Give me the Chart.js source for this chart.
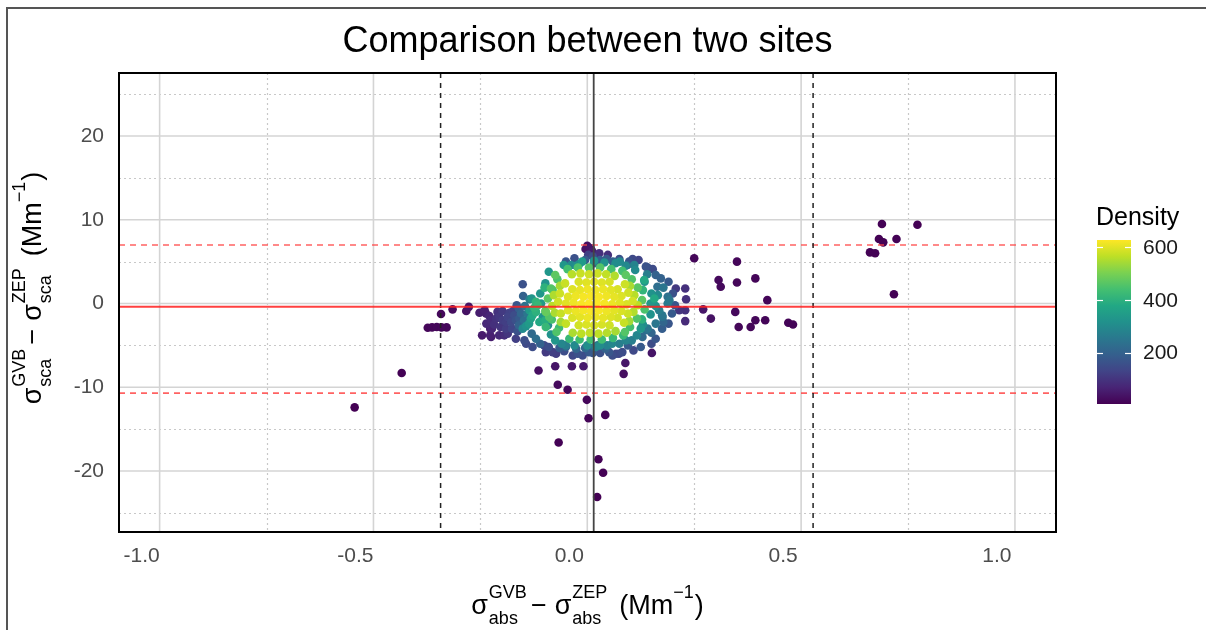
<!DOCTYPE html>
<html>
<head>
<meta charset="utf-8">
<script src="https://cdn.jsdelivr.net/npm/chart.js@4.4.1/dist/chart.umd.min.js"></script>
<style>
  html, body { margin: 0; padding: 0; background: #fff; }
  #wrap { position: relative; width: 1206px; height: 630px; overflow: hidden; }
  #frame { position: absolute; left: 6px; top: 7px; right: -10px; bottom: -10px;
           border-left: 2px solid #555; border-top: 2px solid #555; pointer-events: none; }
  canvas { display: block; }
</style>
</head>
<body>
<div id="wrap">
  <canvas id="myChart" width="1206" height="630"></canvas>
  <div id="frame"></div>
</div>
<script>
const FONT = '"Liberation Sans", Arial, sans-serif';

// axis ticks
const xTicks = [-1.0, -0.5, 0.0, 0.5, 1.0];
const xMinor = [-0.75, -0.25, 0.25, 0.75];
const yTicks = [-20, -10, 0, 10, 20];
const yMinor = [-25, -15, -5, 5, 15, 25];
const densTicks = [200, 400, 600];
const densMin = 5, densMax = 628;

// mean difference and limits of agreement
const meanY = -0.4;
const limitsY = [6.98, -10.7];
const meanX = 0.015;
const limitsX = [-0.343, 0.528];

// points: [abs diff, sca diff, density]
const farPts = [
  [-0.544,-12.4,5],[-0.434,-8.3,6],
  [-0.373,-2.9,14],[-0.363,-2.85,16],[-0.352,-2.8,17],[-0.341,-2.85,17],[-0.329,-2.85,16],
  [-0.342,-1.25,18],[-0.315,-0.7,24],[-0.283,-0.9,36],[-0.277,-0.4,38],
  [-0.114,-8.0,30],[-0.075,-7.5,40],[-0.036,-7.5,45],[-0.009,-7.5,50],
  [-0.069,-9.7,20],[-0.046,-10.3,18],[-0.001,-11.5,14],[0.003,-13.7,10],[0.042,-13.3,10],
  [-0.067,-16.6,6],[0.026,-18.6,7],[0.037,-20.2,6],[0.023,-23.1,5],
  [0.151,-5.9,40],[0.085,-8.4,30],[0.089,-7.1,45],
  [0.000,6.9,30],[0.008,6.6,40],[0.012,6.2,50],[-0.004,6.5,35],
  [0.25,5.4,15],[0.350,5.0,14],[0.307,2.8,20],[0.312,2.0,20],[0.350,2.5,15],[0.393,3.0,12],[0.421,0.4,12],
  [0.271,-0.7,45],[0.289,-1.8,35],[0.346,-1.0,20],[0.354,-2.8,15],[0.382,-2.8,15],[0.393,-2.0,15],
  [0.416,-2.0,12],[0.470,-2.3,10],[0.481,-2.5,10],
  [0.661,6.1,7],[0.673,6.0,7],[0.682,7.7,7],[0.692,7.3,7],[0.689,9.5,6],[0.723,7.7,6],[0.717,1.1,6],[0.772,9.4,5]
];

const wingPts = [
  [-0.252,-1.1,55],[-0.246,-3.8,50],[-0.237,-1.2,60],[-0.229,-1.5,70],[-0.227,-3.0,60],[-0.225,-4.0,55],
  [-0.225,-2.0,80],[-0.213,-1.8,95],[-0.206,-1.6,105],[-0.198,-2.0,115],[-0.186,-1.6,130],[-0.182,-1.1,125],
  [-0.174,-0.9,130],[-0.171,-1.4,150],[-0.167,-2.0,160],[-0.159,-1.8,180],[-0.178,-2.2,140],[-0.190,-2.2,120],
  [-0.227,-3.8,60],[-0.223,-3.0,70],[-0.206,-3.8,75],[-0.194,-3.8,85],[-0.186,-3.6,100],[-0.167,-4.2,120],
  [-0.147,-4.4,150],[-0.143,-4.8,140],[-0.151,2.3,160],[-0.160,-0.6,190],[-0.155,-1.2,210],
  [-0.236,-2.4,75],[-0.218,-2.5,90],[-0.203,-2.8,100],[-0.190,-3.0,115],[-0.176,-3.0,135],[-0.163,-3.3,160],
  [-0.160,-2.6,200],[-0.148,-2.0,230],[-0.140,-1.2,250],[-0.146,-0.3,240],[-0.135,0.5,270],[-0.150,0.9,200],
  [-0.165,-0.2,170],[-0.198,-0.9,110],[-0.210,-1.0,95],[-0.240,-0.8,60],[-0.130,-3.6,220],[-0.120,-4.2,230],
  [-0.110,-4.8,200],[-0.128,-5.2,150],
  [0.207,1.8,110],[0.229,1.8,90],[0.231,0.5,90],[0.215,-0.8,100],[0.229,-0.8,95],[0.229,-2.1,80],
  [0.164,2.0,230],[0.178,1.9,250],[0.192,0.4,250],[0.188,0.0,260],[0.188,0.8,240],[0.176,-1.6,240],
  [0.168,-0.8,270],[0.175,-1.4,250],[0.137,-3.2,230],[0.129,-4.0,220],[0.150,-3.5,210],[0.141,-3.0,250],
  [0.160,-2.4,250],[0.141,4.3,150],[0.153,4.1,145],[0.137,4.4,165],[0.098,5.0,160],[0.106,5.3,140],[0.094,4.6,190],
  [0.172,3.0,200],[0.190,2.6,180],[0.200,1.2,160],[0.205,-0.2,170],[0.198,-1.2,180],[0.190,-2.4,170],
  [0.175,-3.0,190],[0.160,-4.2,170],[0.150,-4.8,150],[0.125,-5.2,180],[0.120,5.2,130],[0.160,3.4,200],[0.178,-2.2,210],
  [0.013,5.6,150],[0.016,4.8,220],[0.048,5.8,90],[-0.005,5.2,180],[0.030,5.2,190],[0.060,5.0,200],
  [-0.030,5.4,160],[0.045,5.3,180],[0.075,5.3,160],[-0.050,5.0,170],[0.002,5.8,120],[0.028,6.0,90],
  [-0.101,-5.0,140],[-0.097,-5.8,110],[-0.081,-5.8,120],[-0.073,-6.0,115],[-0.054,-5.7,150],[-0.034,-6.2,140],
  [-0.022,-6.0,160],[-0.011,-6.2,150],[0.004,-5.8,180],[0.013,-5.9,170],[0.016,-5.2,220],[0.024,-5.0,230],
  [0.043,-5.4,200],[0.051,-5.8,170],[0.059,-6.2,150],[0.067,-6.0,140],[0.074,-6.0,130],[0.082,-5.8,150],
  [-0.050,-5.2,200],[-0.026,-5.4,210],
  [-0.090,-5.2,150],[-0.065,-5.3,180],[0.095,-5.0,180],[0.108,-5.6,140],[0.030,-5.9,160],[-0.005,-5.3,220]
];

const haloPts = [
  [-0.151,-3.0,300],[-0.143,-2.7,320],[-0.136,-2.4,340],[-0.132,-1.8,360],[-0.128,-1.4,380],[-0.120,-1.0,400],
  [-0.124,-0.5,410],[-0.116,-0.2,420],[-0.120,0.2,410],[-0.097,-1.0,480],[-0.089,-1.6,460],[-0.097,-2.8,420],
  [-0.112,-2.2,380],[-0.081,1.6,450],[0.157,0.6,380],[0.133,2.8,380],
  [-0.108,0.0,340],[-0.110,1.2,330],[-0.104,-1.6,320],[0.148,0.0,335],[0.150,1.2,320],[0.148,-1.3,318],
  [-0.098,2.4,320],[0.134,2.6,325],[-0.092,-2.6,300],[0.130,-2.5,310],[-0.038,4.6,300],[-0.026,4.5,310],
  [-0.019,4.7,305],[0.040,4.9,320],[0.066,4.8,305],[0.090,4.5,295],[0.112,4.0,300],[-0.060,-4.8,290],
  [-0.030,-5.0,300],[0.000,-5.0,310],[0.030,-5.0,305],[0.058,-4.8,290],[0.090,-4.4,285],[0.116,-3.8,290],
  [-0.092,0.6,470],[-0.098,-0.9,450],[0.128,0.4,470],[0.134,-0.7,450],[-0.085,1.8,460],[0.118,1.9,465],
  [-0.083,-1.9,445],[0.116,-1.8,455],[-0.070,2.9,450],[0.104,2.9,455],[-0.066,-2.9,430],[0.100,-2.8,440],
  [-0.046,4.1,440],[-0.022,4.3,450],[0.004,4.3,465],[0.030,4.3,460],[0.056,4.1,445],[0.082,3.9,440],
  [-0.042,-4.2,420],[-0.018,-4.3,432],[0.008,-4.3,440],[0.034,-4.3,435],[0.060,-4.1,422],[0.084,-3.8,420],
  [-0.075,3.4,470],[0.090,3.4,470],[-0.072,-3.4,455],[0.088,-3.4,460],
  [-0.100,1.9,400],[0.130,1.6,410],[-0.098,-2.0,390],[0.128,-1.9,400],
  [-0.055,4.6,330],[0.110,4.6,280],[-0.012,5.0,340],[0.016,5.1,330],[0.076,5.0,300],
  [-0.075,-4.4,330],[-0.050,-5.0,270],[0.020,-5.2,290],[0.046,-5.0,280],[0.075,-4.8,270],[0.104,-4.4,270],
  [-0.130,0.6,330],[-0.135,-0.8,340],[0.160,-0.3,320],[0.165,1.0,300],
  [0.140,3.5,270],[-0.090,3.8,330],[-0.085,-3.7,320],[0.125,-3.0,330]
];

const corePts = [
  [-0.068,0.2,585],[-0.082,-0.3,560],[0.106,0.3,588],[0.118,-0.2,565],
  [-0.064,1.2,580],[-0.078,1.0,552],[0.096,1.3,585],[0.110,1.0,560],
  [-0.062,-1.2,575],[-0.076,-1.1,548],[0.095,-1.2,580],[0.108,-1.0,555],
  [-0.052,2.4,576],[-0.064,2.1,545],[0.088,2.3,580],[0.100,2.1,548],
  [-0.050,-2.4,572],[-0.062,-2.2,540],[0.086,-2.3,575],[0.098,-2.1,542],
  [-0.036,3.5,560],[-0.016,3.6,575],[0.004,3.5,582],[0.024,3.6,580],[0.044,3.5,570],[0.064,3.3,555],
  [-0.034,-3.5,550],[-0.014,-3.6,565],[0.006,-3.5,572],[0.026,-3.6,568],[0.046,-3.5,558],[0.066,-3.3,545],
  [0.004,0.0,628],[0.022,0.1,626],[-0.014,-0.1,622],[0.040,0.0,620],[-0.032,0.1,612],[0.058,-0.1,610],
  [-0.050,0.0,600],[0.076,0.1,602],[0.092,-0.1,592],
  [-0.045,0.8,600],[-0.027,0.9,612],[-0.009,0.8,620],[0.009,0.9,624],[0.027,0.8,622],[0.045,0.9,614],
  [0.063,0.8,606],[0.080,0.9,596],
  [-0.045,-0.8,598],[-0.027,-0.9,610],[-0.009,-0.8,618],[0.009,-0.9,622],[0.027,-0.8,620],[0.045,-0.9,612],
  [0.063,-0.8,602],[0.080,-0.9,592],
  [-0.035,1.7,598],[-0.017,1.6,608],[0.001,1.7,614],[0.019,1.6,616],[0.037,1.7,610],[0.055,1.6,602],[0.071,1.7,592],
  [-0.035,-1.7,594],[-0.017,-1.6,604],[0.001,-1.7,610],[0.019,-1.6,612],[0.037,-1.7,606],[0.055,-1.6,598],[0.071,-1.7,588],
  [-0.020,2.6,592],[-0.002,2.5,600],[0.016,2.6,604],[0.034,2.5,598],[0.052,2.6,590],
  [-0.020,-2.6,586],[-0.002,-2.5,594],[0.016,-2.6,596],[0.034,-2.5,590],[0.052,-2.6,582]
];

// viridis palette
const viridisStops = ['#440154','#482475','#414487','#355f8d','#2a788e','#21918c',
                      '#22a884','#44bf70','#7ad151','#bddf26','#fde725'];

function hexRgb(h) {
  return [parseInt(h.slice(1,3),16), parseInt(h.slice(3,5),16), parseInt(h.slice(5,7),16)];
}
function viridis(d) {
  let t = (d - densMin) / (densMax - densMin);
  t = Math.max(0, Math.min(1, t));
  const pos = t * (viridisStops.length - 1);
  const i = Math.min(Math.floor(pos), viridisStops.length - 2);
  const f = pos - i;
  const a = hexRgb(viridisStops[i]), b = hexRgb(viridisStops[i + 1]);
  const c = a.map((v, k) => Math.round(v + (b[k] - v) * f));
  return 'rgb(' + c.join(',') + ')';
}

// draw low density first so the dense core sits on top
const allPts = farPts.concat(wingPts, haloPts, corePts).slice().sort((p, q) => p[2] - q[2]);

// math-style axis titles
function exprWidth(ctx, parts, big, small) {
  let w = 0;
  parts.forEach(p => {
    if (p.gap) { w += p.gap; return; }
    if (p.t) { ctx.font = big + 'px ' + FONT; w += ctx.measureText(p.t).width; return; }
    ctx.font = small + 'px ' + FONT;
    w += Math.max(p.sup ? ctx.measureText(p.sup).width : 0, p.sub ? ctx.measureText(p.sub).width : 0);
  });
  return w;
}
function drawExpr(ctx, parts, cx, base, big, small) {
  let x = cx - exprWidth(ctx, parts, big, small) / 2;
  ctx.textAlign = 'left';
  ctx.textBaseline = 'alphabetic';
  parts.forEach(p => {
    if (p.gap) { x += p.gap; return; }
    if (p.t) {
      ctx.font = big + 'px ' + FONT;
      ctx.fillText(p.t, x, base);
      x += ctx.measureText(p.t).width;
      return;
    }
    ctx.font = small + 'px ' + FONT;
    let w = 0;
    if (p.sup) { ctx.fillText(p.sup, x, base - 16); w = ctx.measureText(p.sup).width; }
    if (p.sub) { ctx.fillText(p.sub, x, base + 10); w = Math.max(w, ctx.measureText(p.sub).width); }
    x += w;
  });
}
function axisParts(tag) {
  return [
    {t: 'σ'}, {gap: 1}, {sup: 'GVB', sub: tag}, {gap: 4}, {t: '−'}, {gap: 8},
    {t: 'σ'}, {gap: 1}, {sup: 'ZEP', sub: tag}, {gap: 12}, {t: '(Mm'}, {sup: '−1'}, {gap: 1}, {t: ')'}
  ];
}

const backPlugin = {
  id: 'backGrid',
  beforeDatasetsDraw(chart) {
    const c = chart.ctx, a = chart.chartArea;
    const sx = chart.scales.x, sy = chart.scales.y;
    c.save();
    // minor grid, dotted
    c.strokeStyle = '#c8c8c8';
    c.lineWidth = 1.2;
    c.setLineDash([2, 3]);
    xMinor.forEach(v => {
      const px = Math.round(sx.getPixelForValue(v)) + 0.5;
      c.beginPath(); c.moveTo(px, a.top); c.lineTo(px, a.bottom); c.stroke();
    });
    yMinor.forEach(v => {
      const py = Math.round(sy.getPixelForValue(v)) + 0.5;
      c.beginPath(); c.moveTo(a.left, py); c.lineTo(a.right, py); c.stroke();
    });
    // major grid
    c.setLineDash([]);
    c.strokeStyle = '#d4d4d4';
    c.lineWidth = 1.6;
    xTicks.forEach(v => {
      const px = sx.getPixelForValue(v);
      c.beginPath(); c.moveTo(px, a.top); c.lineTo(px, a.bottom); c.stroke();
    });
    yTicks.forEach(v => {
      const py = sy.getPixelForValue(v);
      c.beginPath(); c.moveTo(a.left, py); c.lineTo(a.right, py); c.stroke();
    });
    c.restore();
  },
  afterDatasetsDraw(chart) {
    const c = chart.ctx, a = chart.chartArea;
    const sx = chart.scales.x, sy = chart.scales.y;
    c.save();
    // limits of agreement, red dashed
    c.strokeStyle = 'rgba(255,70,70,0.85)';
    c.lineWidth = 1.6;
    c.setLineDash([6, 5]);
    limitsY.forEach(v => {
      const py = sy.getPixelForValue(v);
      c.beginPath(); c.moveTo(a.left, py); c.lineTo(a.right, py); c.stroke();
    });
    c.strokeStyle = '#222';
    c.lineWidth = 1.5;
    c.setLineDash([5, 5]);
    limitsX.forEach(v => {
      const px = sx.getPixelForValue(v);
      c.beginPath(); c.moveTo(px, a.top); c.lineTo(px, a.bottom); c.stroke();
    });
    c.setLineDash([]);
    // mean lines
    c.strokeStyle = 'rgba(255,30,30,0.85)';
    c.lineWidth = 2;
    let py = sy.getPixelForValue(meanY);
    c.beginPath(); c.moveTo(a.left, py); c.lineTo(a.right, py); c.stroke();
    c.strokeStyle = '#444';
    c.lineWidth = 1.8;
    let px = sx.getPixelForValue(meanX);
    c.beginPath(); c.moveTo(px, a.top); c.lineTo(px, a.bottom); c.stroke();
    // panel border
    c.strokeStyle = '#000';
    c.lineWidth = 2;
    c.strokeRect(a.left, a.top, a.right - a.left, a.bottom - a.top);
    c.restore();
  },
  afterDraw(chart) {
    const c = chart.ctx, a = chart.chartArea;
    c.save();
    c.fillStyle = '#000';
    // title
    c.font = '36px ' + FONT;
    c.textAlign = 'center';
    c.textBaseline = 'alphabetic';
    c.fillText('Comparison between two sites', (a.left + a.right) / 2, 52);
    // x axis title
    drawExpr(c, axisParts('abs'), (a.left + a.right) / 2, 614, 27, 18);
    // y axis title
    c.save();
    c.translate(41, 288);
    c.rotate(-Math.PI / 2);
    drawExpr(c, axisParts('sca'), 0, 0, 27, 18);
    c.restore();

    // colour bar legend
    const bx = 1097, bw = 34, bTop = 240, bBot = 404;
    const yFor = d => bBot - (d - densMin) / (densMax - densMin) * (bBot - bTop);
    const g = c.createLinearGradient(0, bBot, 0, bTop);
    viridisStops.forEach((col, i) => g.addColorStop(i / (viridisStops.length - 1), col));
    c.fillStyle = g;
    c.fillRect(bx, bTop, bw, bBot - bTop);
    c.strokeStyle = '#fff';
    c.lineWidth = 1.2;
    densTicks.forEach(d => {
      const ty = Math.round(yFor(d)) + 0.5;
      c.beginPath(); c.moveTo(bx, ty); c.lineTo(bx + 6, ty); c.stroke();
      c.beginPath(); c.moveTo(bx + bw - 6, ty); c.lineTo(bx + bw, ty); c.stroke();
    });
    c.fillStyle = '#1a1a1a';
    c.font = '21px ' + FONT;
    c.textAlign = 'left';
    c.textBaseline = 'middle';
    densTicks.forEach(d => c.fillText(String(d), 1143, yFor(d) + 1));
    c.fillStyle = '#000';
    c.font = '25px ' + FONT;
    c.textBaseline = 'alphabetic';
    c.fillText('Density', 1096, 225);
    c.restore();
  }
};

const ctx = document.getElementById('myChart').getContext('2d');

const myChart = new Chart(ctx, {
  type: 'scatter',
  data: {
    datasets: [{
      data: allPts.map(p => ({ x: p[0], y: p[1] })),
      pointRadius: 4.3,
      pointHoverRadius: 4.3,
      pointBorderWidth: 0,
      pointBackgroundColor: allPts.map(p => viridis(p[2])),
      pointBorderColor: allPts.map(p => viridis(p[2]))
    }]
  },
  options: {
    responsive: false,
    animation: false,
    events: [],
    layout: { padding: { left: 0, top: 73, right: 150, bottom: 0 } },
    plugins: {
      legend: { display: false },
      tooltip: { enabled: false },
      title: { display: false }
    },
    scales: {
      x: {
        type: 'linear',
        min: -1.095,
        max: 1.096,
        grid: { display: false, drawTicks: false },
        border: { display: false },
        afterBuildTicks: s => { s.ticks = xTicks.map(v => ({ value: v })); },
        afterFit: s => { s.height = 98; },
        ticks: {
          callback: v => Number(v).toFixed(1),
          color: '#4d4d4d',
          font: { family: FONT, size: 21 },
          padding: 12,
          labelOffset: -18,
          maxRotation: 0,
          autoSkip: false
        }
      },
      y: {
        type: 'linear',
        min: -27.28,
        max: 27.52,
        grid: { display: false, drawTicks: false },
        border: { display: false },
        afterBuildTicks: s => { s.ticks = yTicks.map(v => ({ value: v })); },
        afterFit: s => { s.width = 119; },
        ticks: {
          callback: v => String(v),
          color: '#4d4d4d',
          font: { family: FONT, size: 21 },
          padding: 15,
          autoSkip: false
        }
      }
    }
  },
  plugins: [backPlugin]
});
</script>
</body>
</html>
